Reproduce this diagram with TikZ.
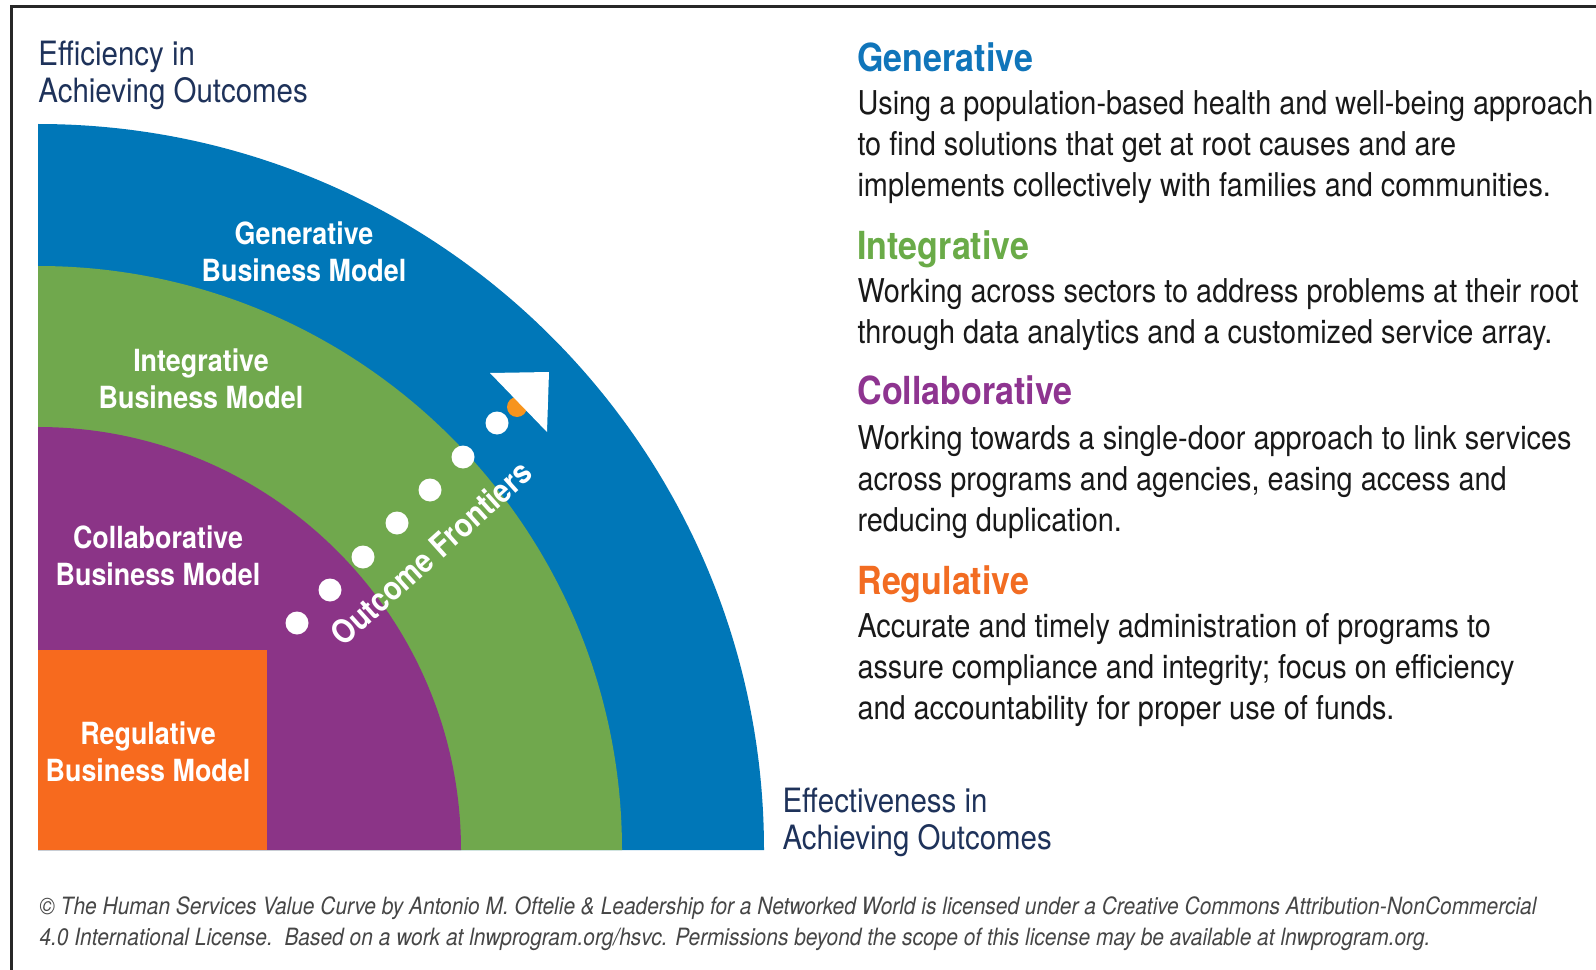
\documentclass[tikz,border=0pt]{standalone}
\usepackage{fontspec}
\setmainfont{TeX Gyre Heros}[FakeStretch=0.88]

\definecolor{chartblue}{RGB}{0,119,184}
\definecolor{chartgreen}{RGB}{112,168,77}
\definecolor{chartpurple}{RGB}{139,52,135}
\definecolor{chartorange}{RGB}{247,106,30}
\definecolor{dotamber}{RGB}{247,148,29}
\definecolor{genblue}{RGB}{16,117,186}
\definecolor{intgreen}{RGB}{106,171,72}
\definecolor{colpurple}{RGB}{142,52,144}
\definecolor{regorange}{RGB}{242,108,34}
\definecolor{titlenavy}{RGB}{30,50,90}
\definecolor{bodygray}{RGB}{25,25,25}
\definecolor{footgray}{RGB}{70,70,70}
\definecolor{framegray}{RGB}{40,40,40}

\tikzset{every picture/.style={line width=0.75pt}}
\tikzset{
  ringlabel/.style={inner sep=0pt, align=center, text=white, font=\bfseries\fontsize{22.9}{27.75}\selectfont},
  heading/.style={inner sep=0pt, font=\bfseries\fontsize{29}{34}\selectfont},
  bodytext/.style={inner sep=0pt, align=left, text=bodygray, font=\fontsize{24.6}{30.75}\selectfont},
  axistitle/.style={inner sep=0pt, align=left, text=titlenavy, font=\fontsize{25.1}{27.75}\selectfont},
  footnote/.style={inner sep=0pt, align=left, text=footgray, font=\itshape\fontsize{17.85}{23.25}\selectfont},
}

\begin{document}
\begin{tikzpicture}[x=0.75pt,y=0.75pt,yscale=-1,xscale=1]
	\useasboundingbox (0,0) rectangle (1596,970);
	\fill [white] (0,0) rectangle (1596,970);
	% Frame
	\draw [framegray, line width=2.25pt] (11,970) -- (11,7) -- (1596,7) ;
	
	% Quarter rings
	\fill [chartblue] (38,850) -- (38,124) arc (-90:0:726) -- cycle ;
	\fill [chartgreen] (38,850) -- (38,266) arc (-90:0:584) -- cycle ;
	\fill [chartpurple] (38,850) -- (38,427) arc (-90:0:423) -- cycle ;
	\fill [chartorange] (38,650) rectangle (267,850) ;
	
	% Ring labels
	\draw (304,221) node [anchor=north, ringlabel] (genring) {Generative\\Business Model};
	\draw (201,348) node [anchor=north, ringlabel] (intring) {Integrative\\Business Model};
	\draw (158,525) node [anchor=north, ringlabel] (colring) {Collaborative\\Business Model};
	\draw (148,721) node [anchor=north, ringlabel] (regring) {Regulative\\Business Model};
	
	% Frontier dots
	\fill [white] (297,623) circle (11.5) ;
	\fill [white] (330,590) circle (11.5) ;
	\fill [white] (363,557) circle (11.5) ;
	\fill [white] (397,523) circle (11.5) ;
	\fill [white] (430,490) circle (11.5) ;
	\fill [white] (463,457) circle (11.5) ;
	\fill [white] (497,423) circle (11.5) ;
	\fill [dotamber] (517,407) circle (10) ;
	% Arrow head
	\fill [white] (490,373) -- (549,372) -- (547,432) -- cycle ;
	% Text Node
	\draw (431,553) node [rotate=42, ringlabel, font=\bfseries\fontsize{24.5}{28}\selectfont] (frontiers) {Outcome Frontiers};
	
	% Axis titles
	\draw (38,40.6) node [anchor=north west, axistitle] (efficiency) {Efficiency in\\Achieving Outcomes};
	\draw (782,787.6) node [anchor=north west, axistitle] (effectiveness) {Effectiveness in\\Achieving Outcomes};
	
	% Text Node
	\draw (857,72) node [anchor=base west, heading, text=genblue] (genhead) {Generative};
	\draw (857,90.4) node [anchor=north west, bodytext] (genbody) {Using a population-based health and well-being approach\\to find solutions that get at root causes and are\\implements collectively with families and communities.};
	% Text Node
	\draw (857,259) node [anchor=base west, heading, text=intgreen] (inthead) {Integrative};
	\draw (857,278.5) node [anchor=north west, bodytext] (intbody) {Working across sectors to address problems at their root\\through data analytics and a customized service array.};
	% Text Node
	\draw (857,404) node [anchor=base west, heading, text=colpurple] (colhead) {Collaborative};
	\draw (857,425.5) node [anchor=north west, bodytext] (colbody) {Working towards a single-door approach to link services\\across programs and agencies, easing access and\\reducing duplication.};
	% Text Node
	\draw (857,594) node [anchor=base west, heading, text=regorange] (reghead) {Regulative};
	\draw (857,612.5) node [anchor=north west, bodytext] (regbody) {Accurate and timely administration of programs to\\assure compliance and integrity; focus on efficiency\\and accountability for proper use of funds.};
	
	% Footer
	\draw (39,896.7) node [anchor=north west, footnote] (licence) {© The Human Services Value Curve by Antonio M. Oftelie \& Leadership for a Networked World is licensed under a Creative Commons Attribution-NonCommercial\\4.0 International License.\ \ Based on a work at lnwprogram.org/hsvc. Permissions beyond the scope of this license may be available at lnwprogram.org.};
	
\end{tikzpicture}
\end{document}
